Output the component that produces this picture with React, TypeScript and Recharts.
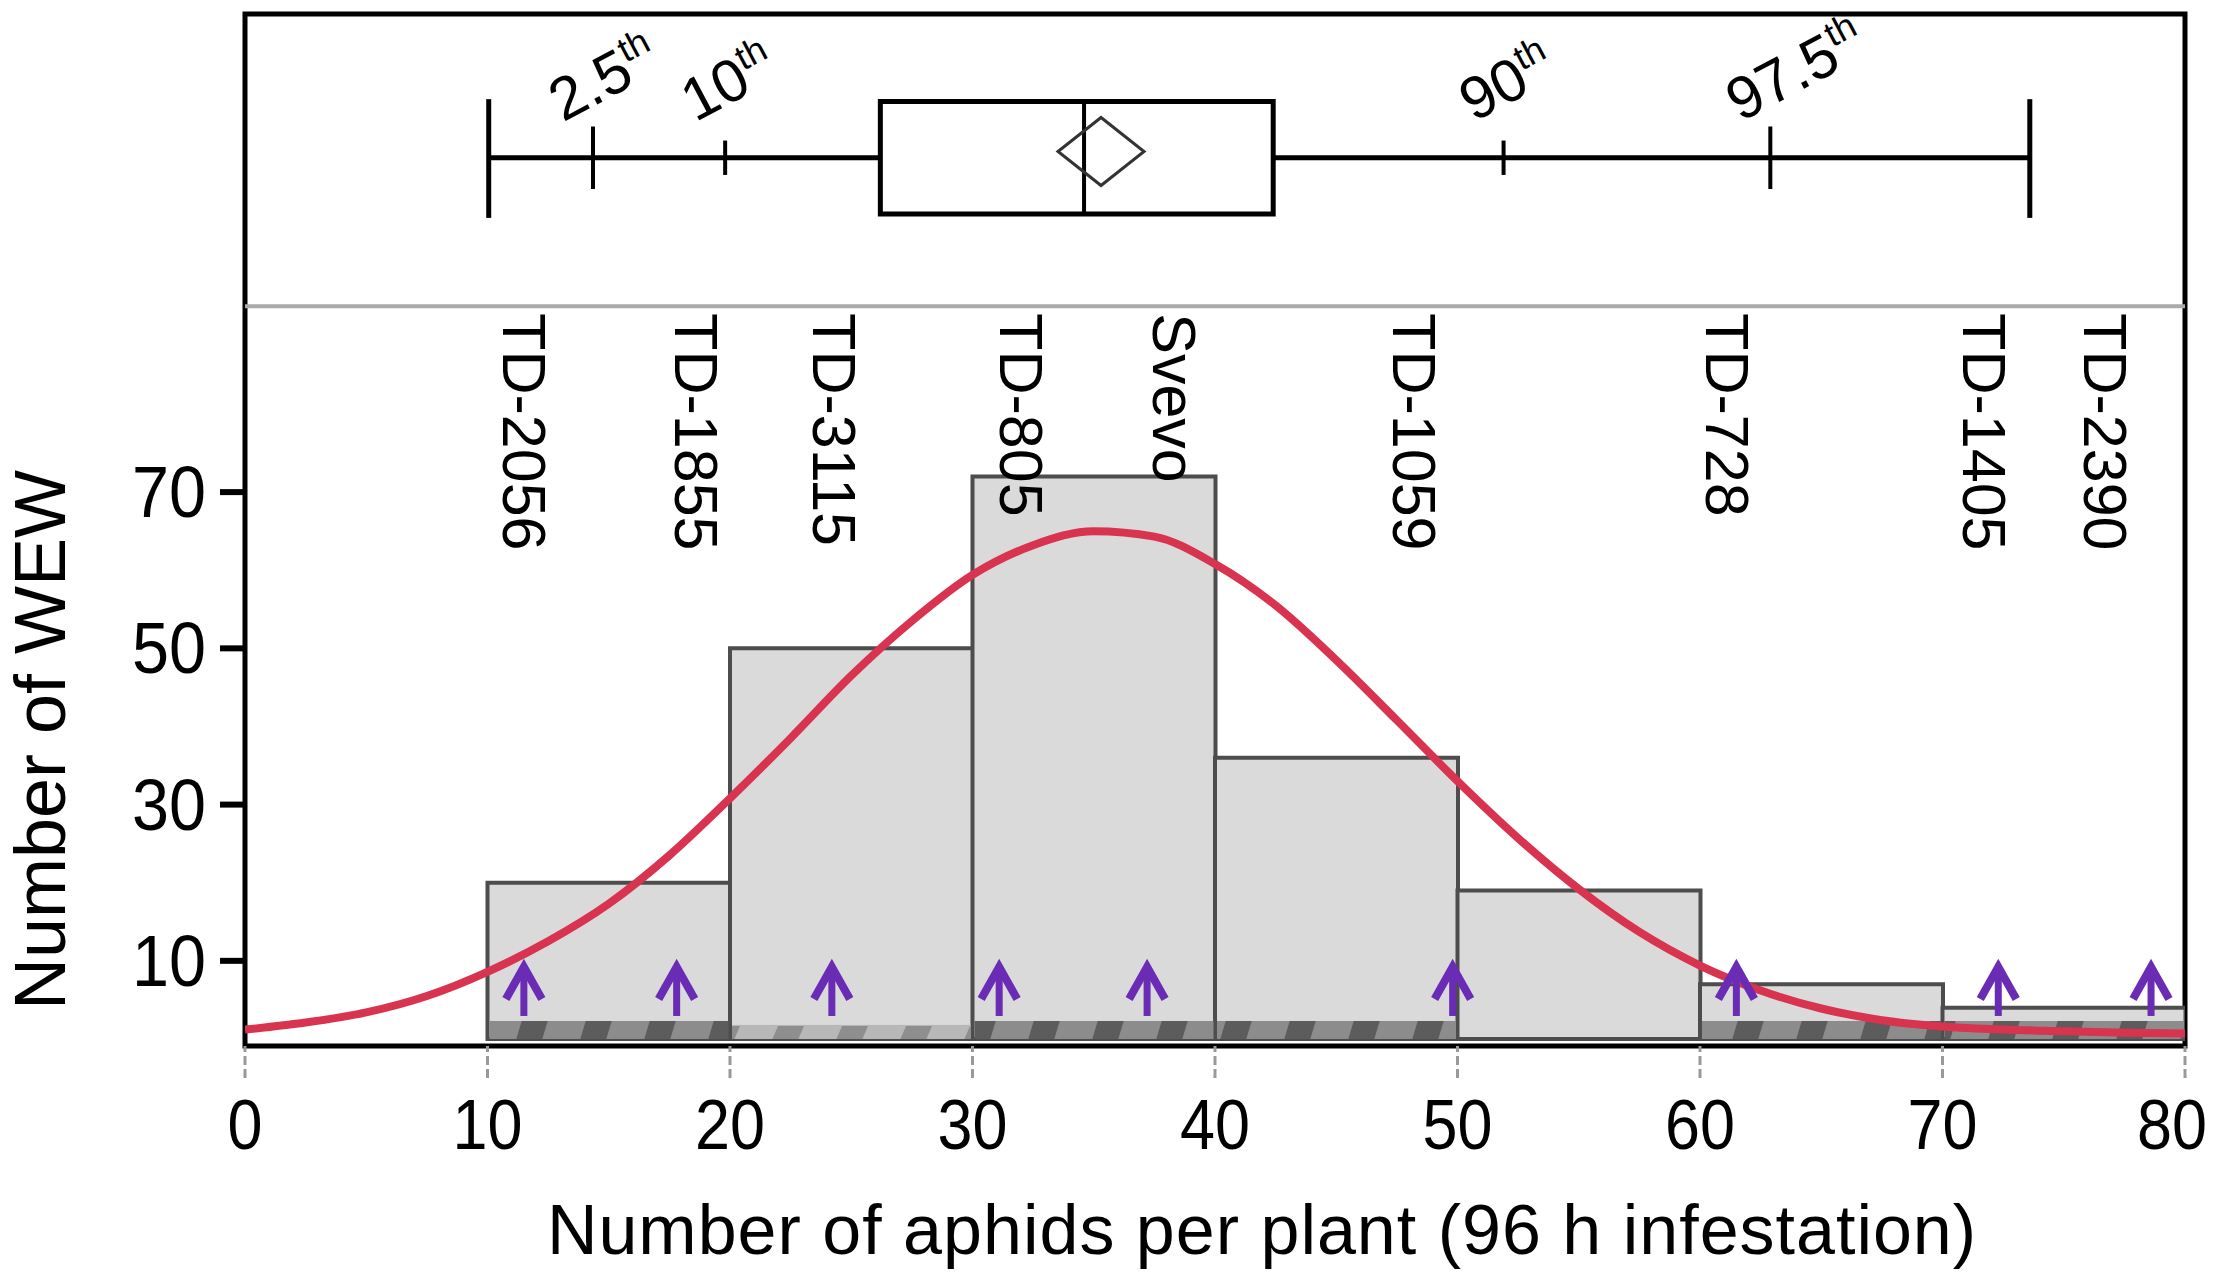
import React from "react";
import {
  ComposedChart,
  Bar,
  Line,
  XAxis,
  YAxis,
  ReferenceLine,
  ReferenceArea,
  ReferenceDot,
  Label,
  Cell,
} from "recharts";

// histogram bins, 10 aphids wide, keyed by their mid point
const binMids = [15, 25, 35, 45, 55, 65, 75];
const binCounts = [20, 50, 72, 36, 19, 7, 4];
// hatched strip at the foot of the bins
const binStrip = [2.3, 1.8, 2.3, 2.3, 0, 2.3, 2.3];

// fitted normal curve
const curveX = [
  0, 2.5, 5, 7.5, 10, 12.5, 15, 17.5, 20, 22.5, 25, 27.5, 30, 32.5, 35, 37.5, 40,
  42.5, 45, 47.5, 50, 52.5, 55, 57.5, 60, 62.5, 65, 67.5, 70, 72.5, 75, 77.5, 80,
];
const curveY = [
  1.2, 2.1, 3.4, 5.5, 8.6, 12.5, 17.3, 23.5, 30.8, 38.5, 46.5, 53.5, 59.4, 63.2, 65,
  64.3, 60.8, 55.5, 48.5, 40.8, 33, 25.7, 19.2, 13.7, 9.4, 6.2, 3.9, 2.4, 1.6, 1.2,
  1.0, 0.8, 0.7,
];

// marked genotypes: value (arrow) and where the name is written
const genoNames = [
  "TD-2056", "TD-1855", "TD-3115", "TD-805", "Svevo",
  "TD-1059", "TD-728", "TD-1405", "TD-2390",
];
const genoValues = [11.5, 17.8, 24.2, 31.1, 37.2, 49.8, 61.5, 72.3, 78.6];
const genoLabelX = [11.5, 18.6, 24.3, 32.0, 38.3, 48.2, 61.1, 71.7, 76.7];

// box plot summary
const boxWhiskers = [10.05, 73.6];
const boxQuartiles = [26.2, 42.4];
const boxMedian = 34.6;
const boxMean = 35.3;
const pctNames = ["2.5", "10", "90", "97.5"];
const pctValues = [14.35, 19.8, 51.9, 62.9];

const xTicks = [0, 10, 20, 30, 40, 50, 60, 70, 80];
const yTicks = [10, 30, 50, 70];

const bins = binMids.map((x, i) => ({ x, count: binCounts[i], strip: binStrip[i] }));
const curve = curveX.map((x, i) => ({ x, fit: curveY[i] }));

// vertical layout of the upper (box plot) panel, in y units
const Y_MIN = -0.9;
const Y_MAX = 131.2;
const SEP_Y = 93.8;
const WHISKER_Y = 112.8;
const BOX_LO = 105.6;
const BOX_HI = 120.0;
const CAP_LO = 105.1;
const CAP_HI = 120.3;
const MEAN_Y = 113.6;
const PCT_LABEL_Y = 117.3;
const GENO_LABEL_Y = 92.9;
const ARROW_Y = 9.6;

const FONT = "'Liberation Sans', Arial, Helvetica, sans-serif";
const PURPLE = "#6a2cb4";

const XTick = (props: any) => {
  const { x, y, payload } = props;
  const s = String(payload.value);
  const w = s.length * 35;
  // keep the last label inside the picture
  const cx = Math.min(x, 2172);
  return (
    <text
      x={cx}
      y={y + 69}
      textAnchor="middle"
      fontFamily={FONT}
      fontSize={70}
      fill="#000"
      textLength={w}
      lengthAdjust="spacingAndGlyphs"
    >
      {s}
    </text>
  );
};

const YTick = (props: any) => {
  const { x, y, payload } = props;
  const s = String(payload.value);
  return (
    <text
      x={x}
      y={y + 25}
      textAnchor="end"
      fontFamily={FONT}
      fontSize={72}
      fill="#000"
      textLength={s.length * 37}
      lengthAdjust="spacingAndGlyphs"
    >
      {s}
    </text>
  );
};

const StripShape = (props: any) => {
  const { x, y, width, height, fill } = props;
  if (!height || height <= 0) return <g />;
  return <rect x={x + 2} y={y} width={width - 4} height={height} fill={fill} />;
};

const arrowShape = (p: any) => (
  <g>
    <line x1={p.cx} y1={p.cy + 6} x2={p.cx} y2={p.cy + 52} stroke={PURPLE} strokeWidth={7} />
    <path
      d={`M${p.cx - 18},${p.cy + 35} L${p.cx},${p.cy + 3} L${p.cx + 18},${p.cy + 35}`}
      fill="none"
      stroke={PURPLE}
      strokeWidth={8}
    />
  </g>
);

const genoLabel = (name: string) => (p: any) => (
  <text
    x={p.cx}
    y={p.cy}
    transform={`rotate(90 ${p.cx} ${p.cy})`}
    dominantBaseline="central"
    fontFamily={FONT}
    fontSize={61}
    fill="#000"
  >
    {name}
  </text>
);

const pctLabel = (name: string) => (p: any) => {
  const x0 = p.cx - 30;
  const y0 = p.cy;
  return (
    <text
      x={x0}
      y={y0}
      transform={`rotate(-28 ${x0} ${y0})`}
      fontFamily={FONT}
      fontSize={60}
      fill="#000"
    >
      {name}
      <tspan fontSize={36} dy={-23}>
        th
      </tspan>
    </text>
  );
};

const diamondShape = (p: any) => (
  <polygon
    points={`${p.cx - 43},${p.cy} ${p.cx},${p.cy - 34} ${p.cx + 43},${p.cy} ${p.cx},${p.cy + 34}`}
    fill="none"
    stroke="#333"
    strokeWidth={3}
  />
);

export default function App() {
  return (
    <div style={{ position: "absolute", left: 0, top: 0, width: 2217, height: 1281, background: "#fff" }}>
      <ComposedChart
        width={2217}
        height={1281}
        data={bins}
        margin={{ top: 14, right: 32, bottom: 135, left: 95 }}
        barCategoryGap={0}
        barGap={0}
      >
        <defs>
          <pattern id="stripDark" width="64" height="20" patternUnits="userSpaceOnUse">
            <rect width="64" height="20" fill="#8c8c8c" />
            <polygon points="4,20 10,0 36,0 30,20" fill="#5c5c5c" />
          </pattern>
          <pattern id="stripLight" width="64" height="20" patternUnits="userSpaceOnUse">
            <rect width="64" height="20" fill="#b8b8b8" />
            <polygon points="4,20 10,6 36,6 30,20" fill="#8e8e8e" />
          </pattern>
        </defs>

        <XAxis
          xAxisId="x"
          dataKey="x"
          type="number"
          domain={[0, 80]}
          ticks={xTicks}
          tickCount={9}
          allowDataOverflow
          height={100}
          axisLine={false}
          tickSize={32}
          tickLine={{ stroke: "#999", strokeWidth: 3, strokeDasharray: "9 4" }}
          tick={<XTick />}
        >
          <Label
            content={() => (
              <text
                x={1262}
                y={1254}
                textAnchor="middle"
                fontFamily={FONT}
                fontSize={70}
                letterSpacing={1}
                fill="#000"
              >
                Number of aphids per plant (96 h infestation)
              </text>
            )}
          />
        </XAxis>
        <XAxis xAxisId="bars" dataKey="x" type="number" domain={[0, 80]} tickCount={9} allowDataOverflow hide height={0} />
        <XAxis xAxisId="strip" dataKey="x" type="number" domain={[0, 80]} tickCount={9} allowDataOverflow hide height={0} />
        <YAxis
          type="number"
          domain={[Y_MIN, Y_MAX]}
          ticks={yTicks}
          allowDataOverflow
          width={150}
          axisLine={false}
          tickSize={25}
          tickMargin={14}
          tickLine={{ stroke: "#000", strokeWidth: 6 }}
          tick={<YTick />}
        >
          <Label
            content={() => (
              <text
                x={40}
                y={740}
                transform="rotate(-90 40 740)"
                textAnchor="middle"
                dominantBaseline="central"
                fontFamily={FONT}
                fontSize={72}
                fill="#000"
              >
                Number of WEW
              </text>
            )}
          />
        </YAxis>

        {/* box plot panel */}
        <ReferenceLine xAxisId="x" y={SEP_Y} stroke="#aaaaaa" strokeWidth={4} />
        <ReferenceLine
          xAxisId="x"
          segment={[{ x: boxWhiskers[0], y: WHISKER_Y }, { x: boxQuartiles[0], y: WHISKER_Y }]}
          stroke="#000"
          strokeWidth={5}
        />
        <ReferenceLine
          xAxisId="x"
          segment={[{ x: boxQuartiles[1], y: WHISKER_Y }, { x: boxWhiskers[1], y: WHISKER_Y }]}
          stroke="#000"
          strokeWidth={5}
        />
        {boxWhiskers.map((v) => (
          <ReferenceLine
            key={"cap" + v}
            xAxisId="x"
            segment={[{ x: v, y: CAP_LO }, { x: v, y: CAP_HI }]}
            stroke="#000"
            strokeWidth={5}
          />
        ))}
        {pctValues.map((v, i) => {
          const half = i === 0 || i === 3 ? 4 : 2.2;
          return (
            <ReferenceLine
              key={"pct" + v}
              xAxisId="x"
              segment={[{ x: v, y: WHISKER_Y - half }, { x: v, y: WHISKER_Y + half }]}
              stroke="#000"
              strokeWidth={4}
            />
          );
        })}
        <ReferenceArea
          xAxisId="x"
          x1={boxQuartiles[0]}
          x2={boxQuartiles[1]}
          y1={BOX_LO}
          y2={BOX_HI}
          fill="none"
          stroke="#000"
          strokeWidth={5}
        />
        <ReferenceLine
          xAxisId="x"
          segment={[{ x: boxMedian, y: BOX_LO }, { x: boxMedian, y: BOX_HI }]}
          stroke="#000"
          strokeWidth={4}
        />
        <ReferenceDot xAxisId="x" x={boxMean} y={MEAN_Y} r={0} shape={diamondShape} />
        {pctValues.map((v, i) => (
          <ReferenceDot
            key={"pl" + v}
            xAxisId="x"
            x={v}
            y={PCT_LABEL_Y}
            r={0}
            shape={pctLabel(pctNames[i])}
          />
        ))}

        {/* histogram */}
        <Bar
          xAxisId="bars"
          dataKey="count"
          fill="#dadada"
          stroke="#4d4d4d"
          strokeWidth={4}
          isAnimationActive={false}
        />
        <Bar xAxisId="strip" dataKey="strip" shape={<StripShape />} isAnimationActive={false}>
          {bins.map((b, i) => (
            <Cell key={b.x} fill={i === 1 ? "url(#stripLight)" : "url(#stripDark)"} />
          ))}
        </Bar>
        <Line
          xAxisId="x"
          data={curve}
          dataKey="fit"
          type="monotone"
          stroke="#d8334f"
          strokeWidth={8}
          dot={false}
          activeDot={false}
          isAnimationActive={false}
        />

        {genoValues.map((v, i) => (
          <ReferenceDot key={"ar" + i} xAxisId="x" x={v} y={ARROW_Y} r={0} shape={arrowShape} />
        ))}
        {genoLabelX.map((v, i) => (
          <ReferenceDot
            key={"gl" + i}
            xAxisId="x"
            x={v}
            y={GENO_LABEL_Y}
            r={0}
            shape={genoLabel(genoNames[i])}
          />
        ))}

        {/* frame */}
        <ReferenceArea
          xAxisId="x"
          x1={0}
          x2={80}
          y1={Y_MIN}
          y2={Y_MAX}
          fill="none"
          stroke="#000"
          strokeWidth={5}
        />
      </ComposedChart>
    </div>
  );
}
